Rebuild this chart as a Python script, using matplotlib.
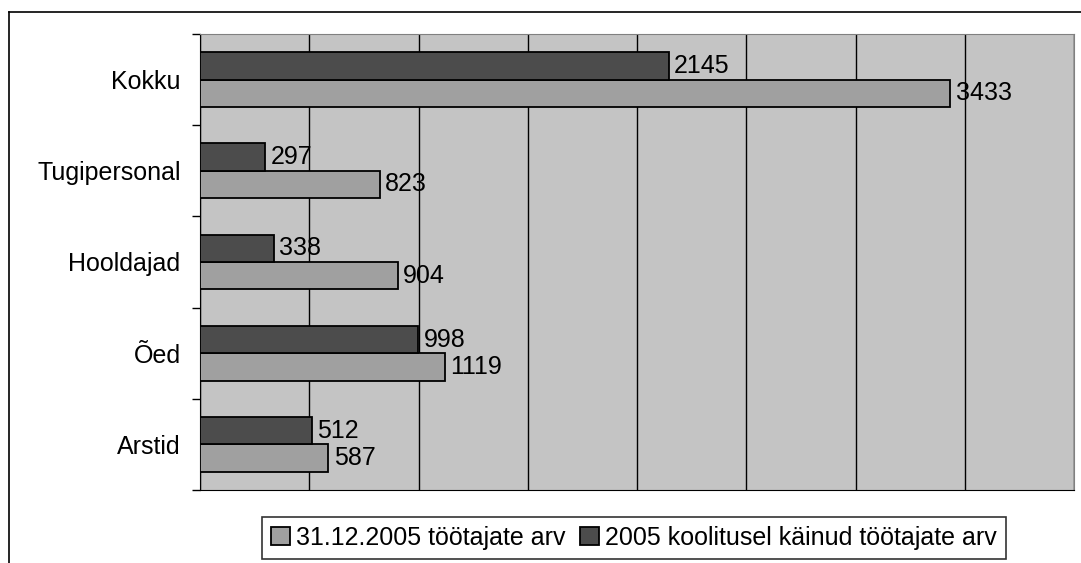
import numpy as np
import matplotlib
matplotlib.use('Agg')
import matplotlib.pyplot as plt
from matplotlib.lines import Line2D

# Data #
categories = ['Arstid', 'Õed', 'Hooldajad', 'Tugipersonal', 'Kokku']
employees = [587, 1119, 904, 823, 3433]
trained = [512, 998, 338, 297, 2145]
series_names = ['31.12.2005 töötajate arv', '2005 koolitusel käinud töötajate arv']

plt.rcParams['font.family'] = ['Liberation Sans', 'DejaVu Sans']

fig = plt.figure(figsize=(10.81, 5.63), dpi=100)
ax = fig.add_axes([200/1081, 73/563, 874/1081, 456/563])

# Outer chart frame #
fig.add_artist(Line2D([9/1081, 9/1081], [0, 1 - 12/563], color='black', lw=1.2))
fig.add_artist(Line2D([9/1081, 1], [1 - 12/563, 1 - 12/563], color='black', lw=1.2))

y = np.arange(len(categories))
h = 0.3
light = '#a0a0a0'
dark = '#4c4c4c'
ax.set_facecolor('#c4c4c4')

b1 = ax.barh(y - h/2, employees, height=h, color=light, edgecolor='black', lw=1.3, zorder=3)
b2 = ax.barh(y + h/2, trained, height=h, color=dark, edgecolor='black', lw=1.3, zorder=3)

for bars, vals in ((b1, employees), (b2, trained)):
    for bar, v in zip(bars, vals):
        ax.text(v + 25, bar.get_y() + bar.get_height()/2, str(v), va='center', ha='left',
                fontsize=18, zorder=4)

ax.set_xlim(0, 4000)
ax.set_ylim(-0.5, len(categories) - 0.5)
ax.set_xticks(np.arange(0, 4001, 500))
ax.set_xticklabels([])
ax.tick_params(axis='x', length=0)
ax.grid(axis='x', color='black', lw=1, zorder=1)

ax.set_yticks(y)
ax.set_yticklabels(categories, fontsize=18)
ax.tick_params(axis='y', which='major', length=0, pad=14)
ax.set_yticks(np.arange(-0.5, len(categories), 1), minor=True)
ax.tick_params(axis='y', which='minor', length=6, width=1)

for s in ax.spines.values():
    s.set_color('#808080')
ax.spines['left'].set_color('black')
ax.spines['bottom'].set_color('black')

leg = ax.legend([b1, b2], series_names, loc='center', bbox_to_anchor=(634/1081, 25/563),
                bbox_transform=fig.transFigure, ncol=2, fontsize=18, frameon=True,
                fancybox=False, edgecolor='black', handlelength=0.75, handleheight=0.75,
                handletextpad=0.25, columnspacing=0.6, borderpad=0.35, borderaxespad=0)
leg.get_frame().set_linewidth(1.2)

fig.savefig('out.png', dpi=100)
